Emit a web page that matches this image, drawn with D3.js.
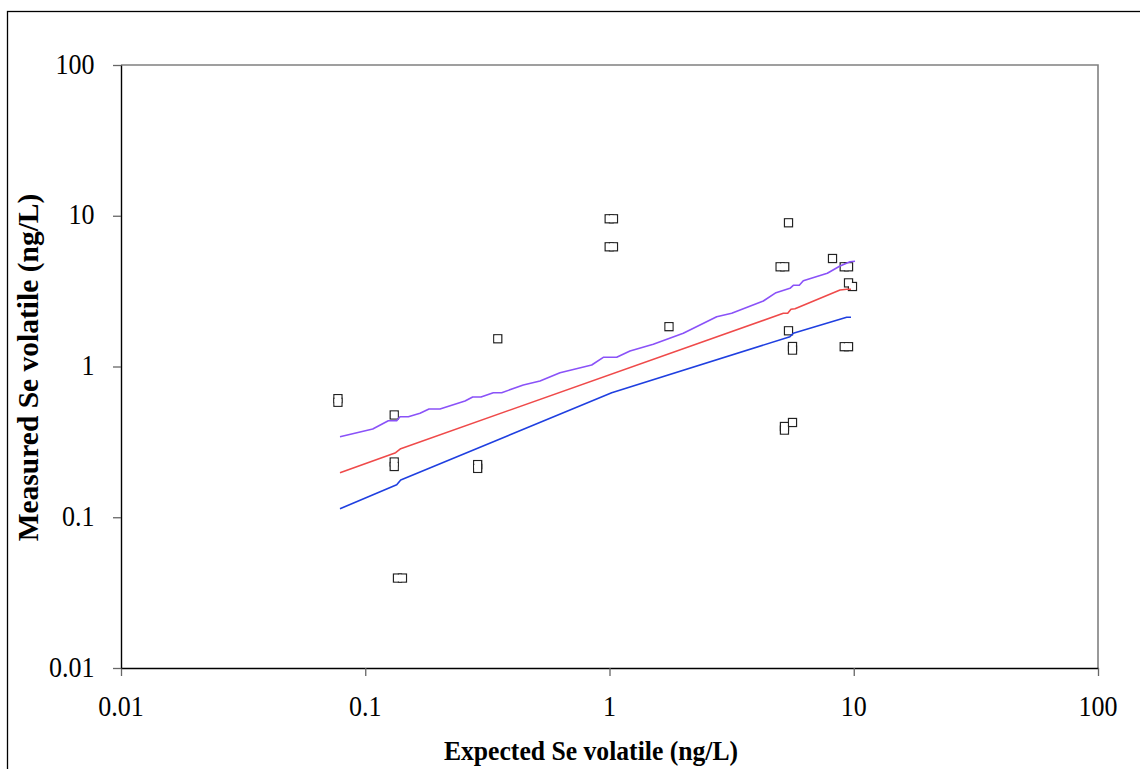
<!DOCTYPE html>
<html>
<head>
<meta charset="utf-8">
<script src="https://cdn.jsdelivr.net/npm/d3@7/dist/d3.min.js"></script>
<style>
  html, body { margin: 0; padding: 0; background: #fff; }
  svg { display: block; }
  text { font-family: "Liberation Serif", "Times New Roman", serif; fill: #000; }
</style>
</head>
<body>
<script>
// ---------- data ----------
const xTickValues = [0.01, 0.1, 1, 10, 100];
const xTickLabels = ["0.01", "0.1", "1", "10", "100"];
const yTickValues = [0.01, 0.1, 1, 10, 100];
const yTickLabels = ["0.01", "0.1", "1", "10", "100"];

const xTitle = "Expected Se volatile (ng/L)";
const yTitle = "Measured Se volatile (ng/L)";

// measured samples (expected, measured)
const sampleExpected = [0.0773, 0.0773, 0.1314, 0.1314, 0.1314, 0.1355, 0.1420, 0.2886, 0.2886, 0.3488,
  0.997, 1.038, 0.997, 1.038, 1.752, 5.406, 4.995, 5.217, 8.185, 9.14, 9.52, 9.52, 9.88,
  5.406, 5.614, 5.614, 9.14, 9.52, 5.203, 5.203, 5.614];
const sampleMeasured = [0.612, 0.579, 0.477, 0.2325, 0.2171, 0.0395, 0.0395, 0.2235, 0.2109, 1.527,
  9.546, 9.546, 6.223, 6.223, 1.837, 8.98, 4.585, 4.585, 5.204, 4.585, 4.585, 3.586, 3.394,
  1.725, 1.357, 1.285, 1.353, 1.353, 0.400, 0.3786, 0.4252];

// lower line (blue)
const blueX = [0.0788, 0.1345, 0.1397, 1.021, 5.48, 5.656, 9.355, 9.743];
const blueY = [0.1139, 0.1644, 0.1767, 0.670, 1.577, 1.661, 2.12, 2.12];

// middle line (red)
const redX = [0.0788, 0.1332, 0.1397, 5.148, 5.366, 5.534, 5.747, 8.786, 9.355, 9.743];
const redY = [0.1975, 0.268, 0.2849, 2.254, 2.254, 2.395, 2.417, 3.218, 3.252, 3.252];

// upper line (purple)
const purpleX = [0.0788, 0.1073, 0.1243, 0.1345, 0.1388, 0.1501, 0.1676, 0.1824, 0.2023, 0.2561,
  0.2754, 0.2978, 0.3344, 0.3619, 0.4437, 0.5194, 0.6271, 0.8455, 0.9432, 1.070, 1.213, 1.511,
  2.005, 2.747, 3.164, 4.264, 4.805, 5.48, 5.656, 5.984, 6.215, 7.794, 8.786, 9.654, 10.12];
const purpleY = [0.3422, 0.3849, 0.4369, 0.4369, 0.4645, 0.4645, 0.4894, 0.5225, 0.5225, 0.5903,
  0.628, 0.628, 0.670, 0.670, 0.754, 0.8013, 0.9097, 1.023, 1.151, 1.151, 1.267, 1.404,
  1.661, 2.139, 2.254, 2.719, 3.088, 3.302, 3.456, 3.456, 3.708, 4.152, 4.642, 4.957, 4.987];

// ---------- layout ----------
const W = 1140, H = 769;
const plot = { left: 121, right: 1098, top: 65, bottom: 668 };

const svg = d3.select("body").append("svg").attr("width", W).attr("height", H);
svg.append("rect").attr("width", W).attr("height", H).attr("fill", "#fff");

// outer chart frame (extends past right/bottom edges)
svg.append("rect").attr("x", 7.5).attr("y", 11.5).attr("width", 1300).attr("height", 900)
  .attr("fill", "none").attr("stroke", "#000").attr("stroke-width", 1.3);

const x = d3.scaleLog().domain([0.01, 100]).range([plot.left, plot.right]);
const y = d3.scaleLog().domain([0.01, 100]).range([plot.bottom, plot.top]);

// top & right plot borders (gray)
svg.append("path")
  .attr("d", `M${plot.left},${plot.top}H${plot.right}V${plot.bottom}`)
  .attr("fill", "none").attr("stroke", "#808080").attr("stroke-width", 1.6);

// axes
const xAxis = svg.append("g").attr("transform", `translate(0,${plot.bottom})`)
  .call(d3.axisBottom(x).tickValues(xTickValues).tickFormat("").tickSize(8).tickSizeOuter(0));
const yAxis = svg.append("g").attr("transform", `translate(${plot.left},0)`)
  .call(d3.axisLeft(y).tickValues(yTickValues).tickFormat("").tickSize(8).tickSizeOuter(0));
[xAxis, yAxis].forEach(g => {
  g.select(".domain").attr("stroke", "#000").attr("stroke-width", 1.4);
  g.selectAll(".tick line").attr("stroke", "#666").attr("stroke-width", 1.3);
});

// tick labels
svg.append("g").selectAll("text").data(xTickValues).join("text")
  .attr("transform", d => `translate(${x(d)},716) scale(1,1.1)`)
  .attr("text-anchor", "middle").attr("font-size", 26)
  .text((d, i) => xTickLabels[i]);
svg.append("g").selectAll("text").data(yTickValues).join("text")
  .attr("transform", d => `translate(94.5,${y(d) + 8.5}) scale(1,1.1)`)
  .attr("text-anchor", "end").attr("font-size", 26)
  .text((d, i) => yTickLabels[i]);

// axis titles
svg.append("text")
  .attr("transform", "translate(591,760) scale(0.95,1.03)")
  .attr("text-anchor", "middle").attr("font-size", 27).attr("font-weight", "bold")
  .text(xTitle);
svg.append("text")
  .attr("transform", "translate(38,367.5) rotate(-90)")
  .attr("text-anchor", "middle").attr("font-size", 29.5).attr("font-weight", "bold")
  .text(yTitle);

// markers: outlines first, then white interiors so overlapping markers merge into one outline
const ms = 8;
const sw = 1.3;
const markers = svg.append("g");
markers.append("g").selectAll("rect").data(sampleExpected).join("rect")
  .attr("x", d => x(d) - ms / 2)
  .attr("y", (d, i) => y(sampleMeasured[i]) - ms / 2)
  .attr("width", ms).attr("height", ms)
  .attr("fill", "#fff").attr("stroke", "#222").attr("stroke-width", sw);
markers.append("g").selectAll("rect").data(sampleExpected).join("rect")
  .attr("x", d => x(d) - ms / 2 + sw / 2)
  .attr("y", (d, i) => y(sampleMeasured[i]) - ms / 2 + sw / 2)
  .attr("width", ms - sw).attr("height", ms - sw)
  .attr("fill", "#fff").attr("stroke", "none");

// lines
const line = d3.line().x(d => x(d[0])).y(d => y(d[1]));
const series = [
  { xs: blueX, ys: blueY, color: "#1f3fe0" },
  { xs: redX, ys: redY, color: "#ef4a4a" },
  { xs: purpleX, ys: purpleY, color: "#8a52f8" }
];
series.forEach(s => {
  svg.append("path")
    .datum(s.xs.map((v, i) => [v, s.ys[i]]))
    .attr("d", line)
    .attr("fill", "none").attr("stroke", s.color).attr("stroke-width", 1.6)
    .attr("stroke-linejoin", "round");
});
</script>
</body>
</html>
